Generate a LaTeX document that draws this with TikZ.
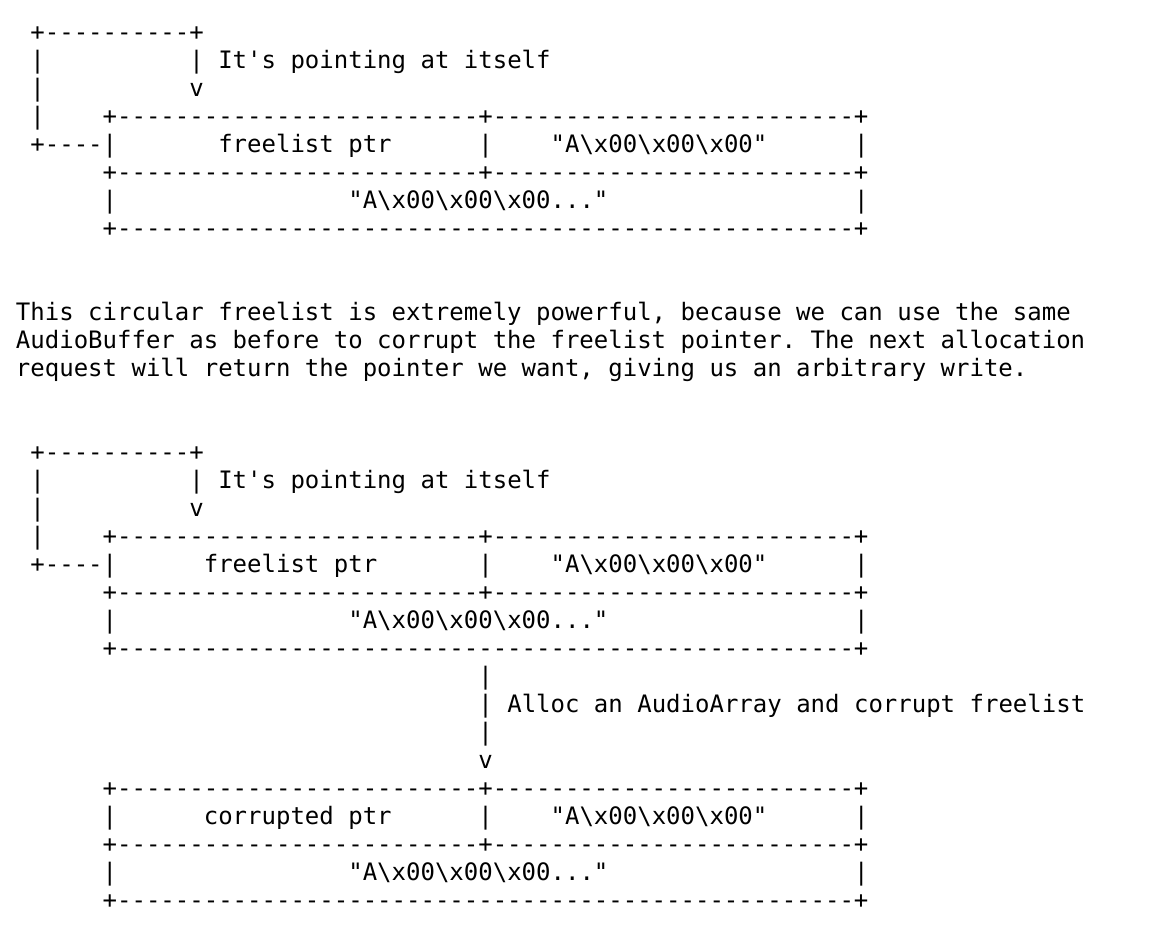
\documentclass[tikz,border=0pt]{standalone}
\usepackage{fontspec}
\setmonofont{DejaVu Sans Mono}
\usetikzlibrary{positioning}

\newcommand{\bs}{\textbackslash}

\begin{document}
\begin{tikzpicture}[
  x=7.225pt, y=-14pt,
  font=\ttfamily\fontsize{12pt}{14pt}\selectfont,
  ascii/.style={anchor=base west, inner sep=0pt, outer sep=0pt}
]
\useasboundingbox (-8pt,20pt) rectangle (568pt,-444pt);

% FIRST BLOCK
\node[ascii] (aloop)  at (1,0)  {+----------+};
\node[ascii] (al1)    at (1,1)  {|};
\node[ascii] (ar1)    at (12,1) {|};
\node[ascii] (alabel) at (14,1) {It's pointing at itself};
\node[ascii] (al2)    at (1,2)  {|};
\node[ascii] (av)     at (12,2) {v};
\node[ascii] (al3)    at (1,3)  {|};
\node[ascii] (atop)   at (6,3)  {+-------------------------+-------------------------+};
\node[ascii] (aback)  at (1,4)  {+----|};
\node[ascii] (aptr)   at (14,4) {freelist ptr};
\node[ascii] (amid)   at (32,4) {|};
\node[ascii] (adata)  at (37,4) {"A\bs x00\bs x00\bs x00"};
\node[ascii] (aright) at (58,4) {|};
\node[ascii] (asep)   at (6,5)  {+-------------------------+-------------------------+};
\node[ascii] (al6)    at (6,6)  {|};
\node[ascii] (arest)  at (23,6) {"A\bs x00\bs x00\bs x00..."};
\node[ascii] (ar6)    at (58,6) {|};
\node[ascii] (abot)   at (6,7)  {+---------------------------------------------------+};

% TEXT
\node[ascii] (txt1) at (0,10) {This circular freelist is extremely powerful, because we can use the same};
\node[ascii] (txt2) at (0,11) {AudioBuffer as before to corrupt the freelist pointer. The next allocation};
\node[ascii] (txt3) at (0,12) {request will return the pointer we want, giving us an arbitrary write.};

% SECOND BLOCK
\node[ascii] (bloop)  at (1,15)  {+----------+};
\node[ascii] (bl1)    at (1,16)  {|};
\node[ascii] (br1)    at (12,16) {|};
\node[ascii] (blabel) at (14,16) {It's pointing at itself};
\node[ascii] (bl2)    at (1,17)  {|};
\node[ascii] (bv)     at (12,17) {v};
\node[ascii] (bl3)    at (1,18)  {|};
\node[ascii] (btop)   at (6,18)  {+-------------------------+-------------------------+};
\node[ascii] (bback)  at (1,19)  {+----|};
\node[ascii] (bptr)   at (13,19) {freelist ptr};
\node[ascii] (bmid)   at (32,19) {|};
\node[ascii] (bdata)  at (37,19) {"A\bs x00\bs x00\bs x00"};
\node[ascii] (bright) at (58,19) {|};
\node[ascii] (bsep)   at (6,20)  {+-------------------------+-------------------------+};
\node[ascii] (bl6)    at (6,21)  {|};
\node[ascii] (brest)  at (23,21) {"A\bs x00\bs x00\bs x00..."};
\node[ascii] (br6)    at (58,21) {|};
\node[ascii] (bbot)   at (6,22)  {+---------------------------------------------------+};

% ARROW
\node[ascii] (s1)    at (32,23) {|};
\node[ascii] (s2)    at (32,24) {|};
\node[ascii] (alloc) at (34,24) {Alloc an AudioArray and corrupt freelist};
\node[ascii] (s3)    at (32,25) {|};
\node[ascii] (sv)    at (32,26) {v};

% THIRD BLOCK
\node[ascii] (ctop)   at (6,27)  {+-------------------------+-------------------------+};
\node[ascii] (cl)     at (6,28)  {|};
\node[ascii] (cptr)   at (13,28) {corrupted ptr};
\node[ascii] (cmid)   at (32,28) {|};
\node[ascii] (cdata)  at (37,28) {"A\bs x00\bs x00\bs x00"};
\node[ascii] (cright) at (58,28) {|};
\node[ascii] (csep)   at (6,29)  {+-------------------------+-------------------------+};
\node[ascii] (cl2)    at (6,30)  {|};
\node[ascii] (crest)  at (23,30) {"A\bs x00\bs x00\bs x00..."};
\node[ascii] (cr2)    at (58,30) {|};
\node[ascii] (cbot)   at (6,31)  {+---------------------------------------------------+};

\end{tikzpicture}
\end{document}
